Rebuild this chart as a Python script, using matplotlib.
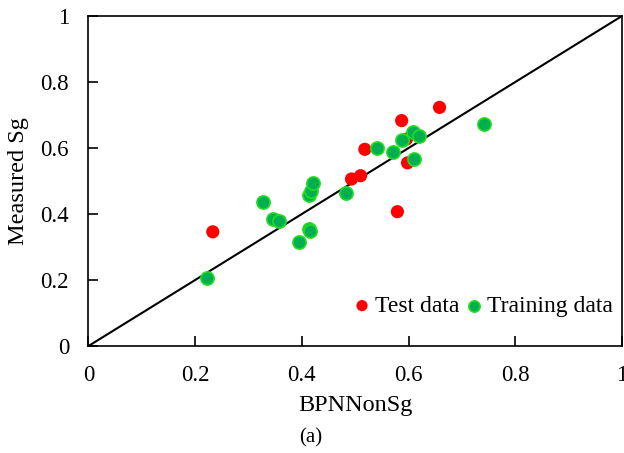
import matplotlib
matplotlib.use("Agg")
import matplotlib.pyplot as plt

plt.rcParams['font.family'] = ['Liberation Serif', 'DejaVu Serif']

test_x = [0.233, 0.658, 0.587, 0.596, 0.518, 0.493, 0.510, 0.598, 0.579]
test_y = [0.346, 0.723, 0.683, 0.627, 0.596, 0.506, 0.516, 0.555, 0.407]

train_x = [0.222, 0.328, 0.345, 0.357, 0.394, 0.413, 0.415, 0.413, 0.417, 0.420,
           0.482, 0.541, 0.571, 0.588, 0.608, 0.620, 0.611, 0.742]
train_y = [0.205, 0.436, 0.386, 0.380, 0.316, 0.356, 0.349, 0.458, 0.471, 0.493,
           0.464, 0.600, 0.589, 0.623, 0.649, 0.635, 0.568, 0.672]

ticks = [0, 0.2, 0.4, 0.6, 0.8, 1]
tick_labels = ['0', '0.2', '0.4', '0.6', '0.8', '1']

fig = plt.figure(figsize=(6.24, 4.53), dpi=100)
ax = fig.add_axes([0.1418, 0.2362, 0.9968 - 0.1418, 0.9647 - 0.2362])

ax.plot([0, 1], [0, 1], color='black', lw=1.5, zorder=1)
ax.scatter(test_x, test_y, s=90, color='#ff0000', edgecolors='none', zorder=2, label='Test data')
ax.scatter(train_x, train_y, s=90, color='#00b050', edgecolors='#22dd22', linewidths=1.2,
           zorder=3, label='Training data')

ax.set_xlim(0, 1)
ax.set_ylim(0, 1)
ax.set_xticks(ticks)
ax.set_xticklabels(tick_labels)
ax.set_yticks(ticks)
ax.set_yticklabels(tick_labels)
ax.tick_params(direction='in', length=7, width=1.2, labelsize=16.5)
ax.tick_params(axis='x', pad=14)
ax.tick_params(axis='y', pad=14)
for s in ax.spines.values():
    s.set_linewidth(1.2)

ax.set_xlabel('BPNNonSg', fontsize=17.5, labelpad=6)
ax.set_ylabel('Measured Sg', fontsize=17.5, labelpad=8)

ax.legend(loc='center right', ncol=2, frameon=False, fontsize=17, markerscale=0.85,
          handlelength=0.8, handletextpad=0.15, columnspacing=0.2,
          borderpad=0, borderaxespad=0, bbox_to_anchor=(0.982, 0.121))

fig.text(0.4984, 1 - 438 / 453, '(a)', ha='center', va='center', fontsize=15)

fig.savefig('out.png', dpi=100)
